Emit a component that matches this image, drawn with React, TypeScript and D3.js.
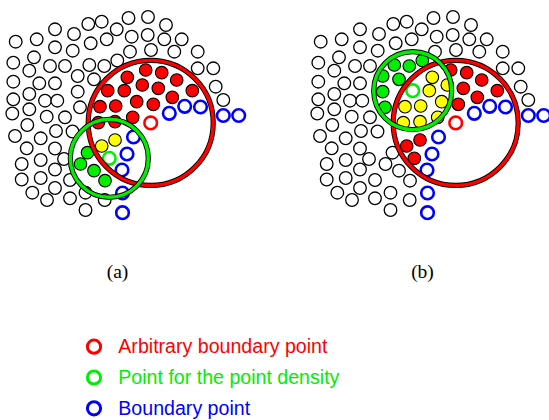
import React from "react";
import * as d3 from "d3";

type P = [number, number];

// Points shared by both panels (unlabelled / ordinary points), panel-local coordinates
const ordinaryPts: P[] = [
  [128.5, 18], [148, 17], [166, 25],
  [101.7, 21.7], [88.3, 24], [55, 29.3], [74, 34], [116.7, 29.3], [131.7, 36.7], [147.7, 35], [164.3, 39.3], [181.7, 39.3],
  [15.7, 41.7], [36.7, 39.3], [55, 47.3], [72.7, 50.7], [90.7, 43.3], [106.7, 39.3], [130, 51.7], [151, 50], [174.3, 51.7], [197.7, 51.7],
  [13.3, 62.7], [34, 57.3], [29.3, 70.7], [50, 66], [65, 66], [197.7, 68.3], [213.3, 68.3],
  [13.3, 81.7], [39.3, 83.3], [55, 83.3], [215.7, 86.7],
  [13.3, 99.3], [29.3, 94], [45, 100.7], [57.3, 100.7], [223.3, 100],
  [12.3, 113.5], [29.3, 109.3], [46.7, 116.7], [65, 117.3],
  [15, 136], [27.3, 125], [40.7, 138.3], [56, 131], [72.5, 131.5],
  [26.7, 148.3], [55, 148.5], [64, 159],
  [21.7, 164], [40.7, 160], [55, 169.5], [70, 180],
  [21.7, 179.5], [40.7, 178], [55, 188],
  [32.3, 192.7], [47, 200], [70, 198.3], [85.5, 192.7], [104.7, 200],
  [85.5, 210],
];

// Panel (a)
const densityA: P[] = [[87.5, 152.7], [80.5, 164], [94, 170.7], [105, 180.7]];
const coreA: P[] = [[101.7, 146], [115, 140]];
const clusterA: P[] = [
  [145.7, 70], [161.7, 72.7], [127.3, 77.3], [176.7, 80], [107.7, 90.7], [124.3, 90.7], [142.3, 85],
  [158.3, 88.3], [192.3, 90.7], [172.3, 97.3], [100, 106.7], [115.7, 106], [136.7, 101.7], [153.3, 104.3],
  [98.3, 122.7], [115, 121.7], [132.7, 117.3],
];
const seedA: P = [109.3, 158.3];
const otherA: P[] = [[89.3, 65], [104.3, 66], [117.3, 60.5], [77.7, 76], [94, 79.3], [77.7, 91.7], [80, 107.3]];

// Panel (b)
const densityB: P[] = [[89.3, 65], [104.3, 66], [117.3, 60.5], [77.7, 76], [94, 79.3], [77.7, 91.7], [80, 107.3]];
const coreB: P[] = [
  [127.3, 77.3], [142.3, 85], [124.3, 90.7], [136.7, 101.7], [115.7, 106], [100, 106.7],
  [98.3, 122.7], [115, 121.7], [132.7, 117.3],
];
const clusterB: P[] = [
  [145.7, 70], [161.7, 72.7], [176.7, 80], [158.3, 88.3], [192.3, 90.7], [172.3, 97.3], [153.3, 104.3],
  [115, 140], [101.7, 146], [109.3, 158.3],
];
const seedB: P = [107.7, 90.7];
const otherB: P[] = [[87.5, 152.7], [80.5, 164], [94, 170.7], [105, 180.7]];

// Shared by both
const boundaryPts: P[] = [
  [169.3, 113.3], [184.7, 106.3], [200.5, 107], [223.3, 115.5], [238.7, 115.5],
  [133.5, 137], [127, 154], [122, 170], [122.5, 193], [122.5, 212.7],
];
const arbitraryPt: P = [150.7, 122.9];
const epsBig = 62.5;
const epsSmall = 39;

const panelLabels = ["(a)", "(b)"];
const legendLabels = ["Arbitrary boundary point", "Point for the point density", "Boundary point"];
const legendColors = ["#ff0000", "#00ee00", "#0000ff"];

const RED = "#ff0000";
const GREEN = "#00ee00";
const YELLOW = "#ffff00";
const BLUE = "#0000ff";

const R = 6.3;

function Panel({ offset, other, density, core, cluster, seed, label }: any) {
  const x = d3.scaleLinear().domain([0, 250]).range([offset, offset + 250]);
  const y = d3.scaleLinear().domain([0, 250]).range([0, 250]);
  const rs = (v: number) => x(v) - x(0);
  const black = [...ordinaryPts, ...other];
  return (
    <g>
      {black.map((p: P, i: number) => (
        <circle key={"k" + i} cx={x(p[0])} cy={y(p[1])} r={R} fill="#fff" stroke="#000" strokeWidth={1.3} />
      ))}
      {cluster.map((p: P, i: number) => (
        <circle key={"r" + i} cx={x(p[0])} cy={y(p[1])} r={R} fill={RED} stroke="#000" strokeWidth={1.1} />
      ))}
      {core.map((p: P, i: number) => (
        <circle key={"y" + i} cx={x(p[0])} cy={y(p[1])} r={R} fill={YELLOW} stroke="#000" strokeWidth={1.1} />
      ))}
      {density.map((p: P, i: number) => (
        <circle key={"g" + i} cx={x(p[0])} cy={y(p[1])} r={R} fill={GREEN} stroke="#000" strokeWidth={1.1} />
      ))}
      {boundaryPts.map((p: P, i: number) => (
        <circle key={"b" + i} cx={x(p[0])} cy={y(p[1])} r={R} fill="#fff" stroke={BLUE} strokeWidth={2.6} />
      ))}
      <circle cx={x(arbitraryPt[0])} cy={y(arbitraryPt[1])} r={R} fill="#fff" stroke={RED} strokeWidth={2.6} />
      <circle cx={x(seed[0])} cy={y(seed[1])} r={R} fill="#fff" stroke={GREEN} strokeWidth={2.6} />
      <circle cx={x(arbitraryPt[0])} cy={y(arbitraryPt[1])} r={rs(epsBig)} fill="none" stroke="#000" strokeWidth={5.2} />
      <circle cx={x(arbitraryPt[0])} cy={y(arbitraryPt[1])} r={rs(epsBig)} fill="none" stroke={RED} strokeWidth={3.4} />
      <circle cx={x(seed[0])} cy={y(seed[1])} r={rs(epsSmall)} fill="none" stroke="#000" strokeWidth={5.2} />
      <circle cx={x(seed[0])} cy={y(seed[1])} r={rs(epsSmall)} fill="none" stroke={GREEN} strokeWidth={3.4} />
      <text x={x(117.5)} y={278} textAnchor="middle" fontFamily="'Liberation Serif', serif" fontSize={19.5} fill="#000">
        {label}
      </text>
    </g>
  );
}

export default function App() {
  const ly = d3.scaleLinear().domain([0, 2]).range([346.7, 408.3]);
  return (
    <svg width={549} height={420} style={{ position: "absolute", left: 0, top: 0, background: "#fff" }}>
      <rect x={0} y={0} width={549} height={420} fill="#fff" />
      <Panel offset={0} other={otherA} density={densityA} core={coreA} cluster={clusterA} seed={seedA} label={panelLabels[0]} />
      <Panel offset={305} other={otherB} density={densityB} core={coreB} cluster={clusterB} seed={seedB} label={panelLabels[1]} />
      {legendLabels.map((t, i) => (
        <g key={t}>
          <circle cx={94} cy={ly(i)} r={6.6} fill="#fff" stroke={legendColors[i]} strokeWidth={3} />
          <text x={118.3} y={ly(i) + 6.2} fontFamily="'Liberation Sans', Arial, sans-serif" fontSize={19.6} fill={legendColors[i]}>
            {t}
          </text>
        </g>
      ))}
    </svg>
  );
}
